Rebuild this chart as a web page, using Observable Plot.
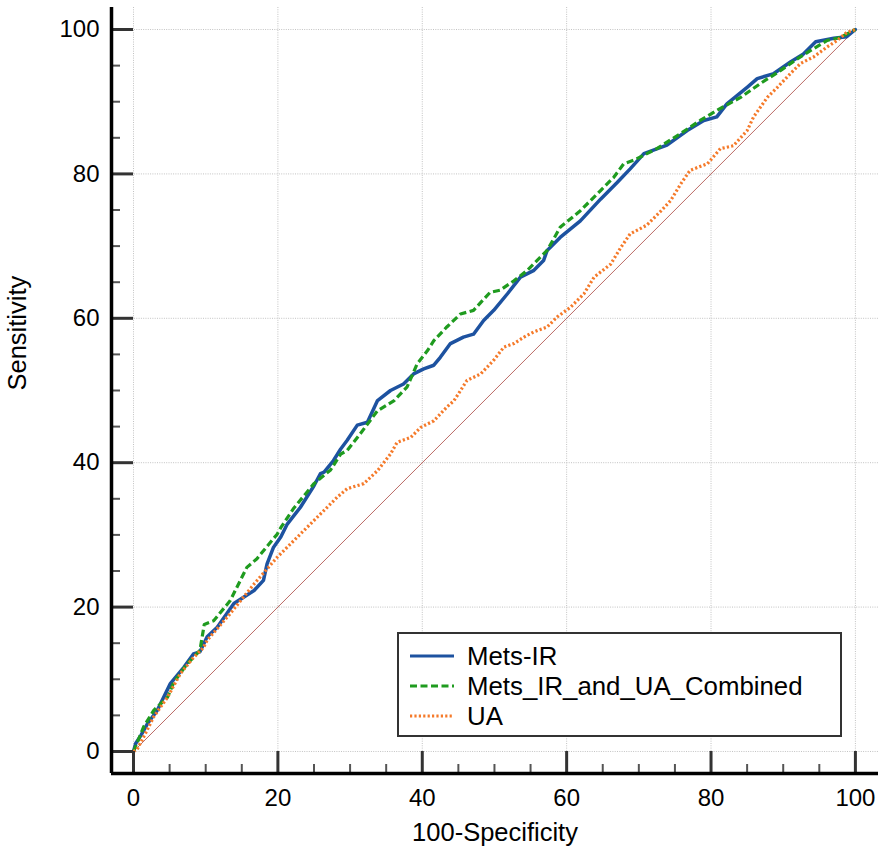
<!DOCTYPE html>
<html>
<head>
<meta charset="utf-8">
<script src="https://cdn.jsdelivr.net/npm/d3@7"></script>
<script src="https://cdn.jsdelivr.net/npm/@observablehq/plot@0.6"></script>
<style>
  html, body { margin: 0; padding: 0; background: #fff; }
  #wrap { position: relative; width: 886px; height: 853px; font-family: "Liberation Sans", Arial, sans-serif; }
  #legend { position: absolute; left: 397px; top: 632px; width: 445px; height: 105px; box-sizing: border-box;
            border: 2.5px solid #333; background: #fff; padding-top: 7px; }
  .row { display: flex; align-items: center; height: 30px; font-size: 25.8px; color: #000; }
  .row svg { margin-left: 11px; margin-right: 13px; }
</style>
</head>
<body>
<div id="wrap"><div id="legend"></div></div>
<script>
// ---- data ----
const seriesNames = ["Mets-IR", "Mets_IR_and_UA_Combined", "UA"];

const metsIrX = [0,0.3,1,1.9,3.3,5.1,7,8.3,9.2,10.2,11.6,13.9,16.7,18,18.5,19.4,20.4,21.3,23.1,25,25.9,26.4,27.7,28.7,29.6,31,32.4,33.8,35.6,37.4,38.8,40.2,41.6,42.5,43.9,45.7,47.1,48.5,49.9,51.8,53.6,55.4,56.8,57.3,59.1,61.9,64.7,67,68.8,70.7,73.9,76.7,79,80.8,82.2,85,86.4,88.7,91,92.8,94.5,97,98.8,100];
const metsIrY = [0,1.1,2.2,3.8,5.7,9.4,11.7,13.5,13.8,15.9,17.2,20.5,22.3,23.7,26,28.3,29.7,31.5,33.8,36.8,38.5,38.7,40.3,41.9,43.1,45.2,45.6,48.6,50,50.9,52.3,53,53.5,54.6,56.5,57.4,57.8,59.7,61.1,63.4,65.7,66.6,68,69.4,71.2,73.5,76.5,78.8,80.7,82.8,84,86,87.4,87.9,89.7,92,93.2,93.9,95.5,96.6,98.3,98.8,99,100];

const combinedX = [0,1.4,2.8,4.7,5.6,7.4,9.2,9.8,11.1,13.4,15.7,17.1,18,19.9,20.4,22.2,25,27.3,28.7,29.6,31.4,33.8,36.1,37.9,39.3,40.7,41.6,43.4,45.3,47.1,49.4,50.8,52.7,54.5,57.3,59.1,61.9,64.7,66.5,67.9,69.3,72.5,75.8,78.5,80.8,84.1,86.8,89.6,91.9,93.8,96.1,97.9,100];
const combinedY = [0,3.4,5.7,7.5,9.6,12.1,14,17.6,18.1,20.9,25.5,26.7,27.8,30.1,31,33.7,37.1,39,41.2,41.7,44,47.2,48.6,50.5,53.7,55.5,56.9,58.8,60.6,61.1,63.6,63.9,65.2,66.6,69.4,72.6,74.9,77.7,79.5,81.4,81.9,83.5,85.6,87.4,88.8,90.6,92.5,94.3,95.9,97.1,98.5,98.9,100];

const uaX = [0,0.5,1.4,2.8,4.7,6.5,8.3,9.7,10.2,13.4,16.7,19.9,23.6,26.4,28.2,29.6,31.9,33.8,35.6,36.5,38.4,39.8,41.6,43.4,44.4,46.2,48.1,49.9,51.3,52.7,54.1,55.4,57.3,58.7,60.5,62.4,63.8,66.1,67.5,68.8,71.1,73,74.4,75.8,77.1,79.5,81.3,83.1,85,85.9,87.8,89.2,91,92.4,94.2,96.1,97.5,98.8,100];
const uaY = [0,0.3,2,4.8,7.5,10.8,13,14.4,15.4,19.1,23.2,26.9,30.6,33.4,35.2,36.4,37.1,38.9,41.2,42.8,43.5,44.9,45.8,47.7,48.6,51.4,52.3,54.2,56,56.5,57.4,58.1,58.8,60.2,61.5,63.4,65.7,67.5,69.8,71.7,72.9,74.8,76.3,78.6,80.5,81.4,83.5,83.9,86,87.9,90.6,92,93.9,95.3,96.2,97.6,98.5,99.6,100];

const diagonal = [0, 100];
const majorTicks = [0, 20, 40, 60, 80, 100];
const minorTicks = [5, 10, 15, 25, 30, 35, 45, 50, 55, 65, 70, 75, 85, 90, 95];
const xTitle = "100-Specificity";
const yTitle = "Sensitivity";

// ---- styling ----
const colors = ["#1d52a0", "#1f9b1f", "#f57a2a"];
const dashes = [null, "7,3.5", "2.2,2.2"];
const X0 = -3.05, X1 = 103.2, Y0 = -3.05, Y1 = 103.05;
const minorLenX = 1.25, minorLenY = 1.25;

const toPts = (xs, ys) => xs.map((x, i) => ({x, y: ys[i]}));
const series = [toPts(metsIrX, metsIrY), toPts(combinedX, combinedY), toPts(uaX, uaY)];

const lineMarks = series.map((pts, i) =>
  Plot.line(pts, {x: "x", y: "y", stroke: colors[i], strokeWidth: i === 0 ? 3.5 : 3.2, strokeDasharray: dashes[i],
                  strokeLinejoin: "round", strokeLinecap: dashes[i] ? "butt" : "round"}));

const chart = Plot.plot({
  width: 886, height: 853,
  marginLeft: 111, marginRight: 8, marginTop: 7, marginBottom: 80,
  style: {fontFamily: "'Liberation Sans', Arial, sans-serif", fontSize: "24px", color: "#000", background: "#fff", overflow: "visible"},
  x: {domain: [X0, X1], ticks: majorTicks, tickSize: 0, tickPadding: 15, label: null, tickFormat: d => String(d)},
  y: {domain: [Y0, Y1], ticks: majorTicks, tickSize: 0, tickPadding: 12, label: null, tickFormat: d => String(d)},
  marks: [
    Plot.ruleX(majorTicks, {x: d => d, stroke: "#c2c2c2", strokeWidth: 1, strokeDasharray: "1,1.3"}),
    Plot.ruleY(majorTicks, {y: d => d, stroke: "#c2c2c2", strokeWidth: 1, strokeDasharray: "1,1.3"}),
    Plot.line(diagonal, {x: d => d, y: d => d, stroke: "#b35a55", strokeWidth: 0.9}),
    ...lineMarks,
    // inward ticks
    Plot.ruleX(majorTicks, {x: d => d, y1: Y0, y2: 0, stroke: "#333", strokeWidth: 3}),
    Plot.ruleX(minorTicks, {x: d => d, y1: Y0, y2: Y0 + minorLenY, stroke: "#555", strokeWidth: 2}),
    Plot.ruleY(majorTicks, {y: d => d, x1: X0, x2: 0, stroke: "#333", strokeWidth: 3}),
    Plot.ruleY(minorTicks, {y: d => d, x1: X0, x2: X0 + minorLenX, stroke: "#555", strokeWidth: 2}),
    // axis lines
    Plot.ruleX([X0], {x: d => d, stroke: "#000", strokeWidth: 3.5}),
    Plot.ruleY([Y0], {y: d => d, stroke: "#000", strokeWidth: 3.5}),
    // titles
    Plot.text([xTitle], {text: d => d, frameAnchor: "bottom", dy: 49, lineAnchor: "top", fontSize: 25.5, fill: "#000"}),
    Plot.text([yTitle], {text: d => d, frameAnchor: "left", dx: -86, rotate: -90, lineAnchor: "bottom", fontSize: 25.5, fill: "#000"})
  ]
});

const wrap = document.getElementById("wrap");
wrap.insertBefore(chart, wrap.firstChild);

// ---- legend ----
const legend = document.getElementById("legend");
seriesNames.forEach((name, i) => {
  const row = document.createElement("div");
  row.className = "row";
  const ns = "http://www.w3.org/2000/svg";
  const s = document.createElementNS(ns, "svg");
  s.setAttribute("width", "44"); s.setAttribute("height", "10");
  const l = document.createElementNS(ns, "line");
  l.setAttribute("x1", "0"); l.setAttribute("x2", "44"); l.setAttribute("y1", "5"); l.setAttribute("y2", "5");
  l.setAttribute("stroke", colors[i]); l.setAttribute("stroke-width", "3");
  if (dashes[i]) l.setAttribute("stroke-dasharray", dashes[i]);
  s.appendChild(l);
  row.appendChild(s);
  const t = document.createElement("span");
  t.textContent = name;
  row.appendChild(t);
  legend.appendChild(row);
});
</script>
</body>
</html>
